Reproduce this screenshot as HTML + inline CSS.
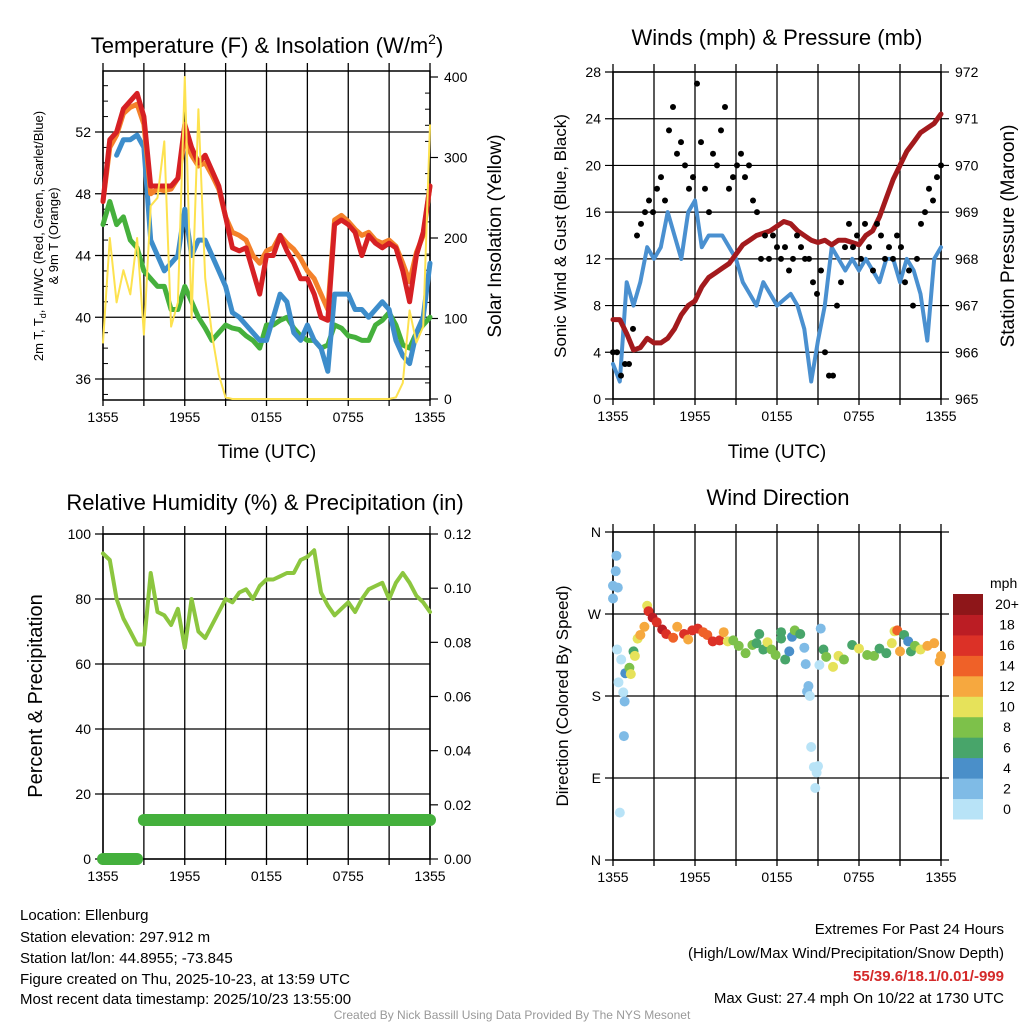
<!DOCTYPE html>
<html><head><meta charset="utf-8">
<style>
body{margin:0;background:#fff;}
svg{display:block;font-family:"Liberation Sans",Arial,sans-serif;}
</style></head>
<body>
<svg id="fig" width="1024" height="1024" viewBox="0 0 1024 1024">
<rect width="1024" height="1024" fill="#fff"/>
<g id="g1"></g>
<g id="g2"></g>
<g id="g3"></g>
<g id="g4"></g>

<text x="267" y="53" font-size="22" text-anchor="middle">Temperature (F) &amp; Insolation (W/m<tspan font-size="14" dy="-9">2</tspan><tspan dy="9">)</tspan></text>
<text x="777" y="45" font-size="22" text-anchor="middle">Winds (mph) &amp; Pressure (mb)</text>
<text x="265" y="510" font-size="22" text-anchor="middle">Relative Humidity (%) &amp; Precipitation (in)</text>
<text x="778" y="505" font-size="22" text-anchor="middle">Wind Direction</text>

<text x="267" y="458" font-size="19" text-anchor="middle">Time (UTC)</text>
<text x="777" y="458" font-size="19" text-anchor="middle">Time (UTC)</text>

<text transform="translate(43,236) rotate(-90)" font-size="13" text-anchor="middle">2m T, T<tspan font-size="9" dy="3">d</tspan><tspan dy="-3">, HI/WC (Red, Green, Scarlet/Blue)</tspan></text>
<text transform="translate(58,236) rotate(-90)" font-size="13" text-anchor="middle">&amp; 9m T (Orange)</text>
<text transform="translate(501,236) rotate(-90)" font-size="19" text-anchor="middle">Solar Insolation (Yellow)</text>
<text transform="translate(566,236) rotate(-90)" font-size="17" text-anchor="middle">Sonic Wind &amp; Gust (Blue, Black)</text>
<text transform="translate(1014,236) rotate(-90)" font-size="19" text-anchor="middle">Station Pressure (Maroon)</text>
<text transform="translate(42,696) rotate(-90)" font-size="20" text-anchor="middle">Percent &amp; Precipitation</text>
<text transform="translate(568,696) rotate(-90)" font-size="17" text-anchor="middle">Direction (Colored By Speed)</text>

<g font-size="15">
<text x="20" y="920">Location: Ellenburg</text>
<text x="20" y="942">Station elevation: 297.912 m</text>
<text x="20" y="963">Station lat/lon: 44.8955; -73.845</text>
<text x="20" y="984">Figure created on Thu, 2025-10-23, at 13:59 UTC</text>
<text x="20" y="1004">Most recent data timestamp: 2025/10/23 13:55:00</text>
</g>
<g font-size="15" text-anchor="end">
<text x="1004" y="934">Extremes For Past 24 Hours</text>
<text x="1004" y="958">(High/Low/Max Wind/Precipitation/Snow Depth)</text>
<text x="1004" y="981" fill="#d42a2a" font-weight="bold">55/39.6/18.1/0.01/-999</text>
<text x="1004" y="1003">Max Gust: 27.4 mph On 10/22 at 1730 UTC</text>
</g>
<text x="512" y="1019" font-size="12" fill="#999" text-anchor="middle">Created By Nick Bassill Using Data Provided By The NYS Mesonet</text>
</svg>
<script>
// Half-hourly series (0..24 h from 1355 UTC)
const timeLabels = ["1355","1955","0155","0755","1355"];
const tempRed = [47.5,51.5,52,53.5,54,54.5,53,48.5,48.5,48.5,48.5,49,52.5,51,50,50.5,49.5,48.5,46.5,44.5,44.3,44.5,43,41.5,44,44,45.3,44.3,43.5,42.5,42.5,41.5,40,39.8,46,46.3,46,45.5,44,45.3,44.8,44.5,44.8,44.5,43,41,44,45.5,48.5];
const tempOrange = [47.5,51,51.8,53.2,53.6,53.8,52.5,48,48.3,48.2,48.3,49,51.5,50.5,49.8,50,49.2,48.3,46.5,45.5,45.3,45,44,43.5,44.3,44.5,45.3,44.8,44.4,43.8,43,42.5,41.5,40.5,46.3,46.6,46.2,45.7,45.3,45.5,45,44.8,45,44.6,43.5,42.3,44.2,45.3,48.5];
const tempBlue = [null,null,50.5,51.5,51.5,51.8,51,45,44,43,43.5,44,47,44,45,45,44,43,42,40.3,40,39.5,39,38.5,38.5,40,41.5,41,39,38.5,39.5,38.5,38,36.5,41.5,41.5,41.5,40.5,40.5,40,40.5,41,40.5,38.5,37.5,37,39,40,43.5];
const tempGreen = [46,47.5,46,46.5,45,44.5,43,42.5,42,42,40.5,40.5,42,41,40,39.3,38.5,39,39.5,39.3,39.2,38.8,38.5,38,39.5,39.5,39.8,40,39.3,38.8,38.5,38.5,38,38.2,39.5,39.3,38.8,38.7,38.5,38.5,39.5,39.8,40.3,39.5,38.2,38,39,39.5,40];
const solar = [70,200,120,160,130,200,80,240,250,320,90,120,400,100,360,150,80,30,2,0,0,0,0,0,0,0,0,0,0,0,0,0,0,0,0,0,0,0,0,0,0,0,0,2,20,110,70,90,340];
const pressure = [966.7,966.7,966.4,966.05,966.1,966.3,966.2,966.2,966.3,966.5,966.8,967.0,967.1,967.4,967.6,967.7,967.8,967.9,968.1,968.3,968.4,968.5,968.55,968.6,968.7,968.8,968.75,968.6,968.5,968.4,968.35,968.4,968.3,968.4,968.4,968.35,968.3,968.5,968.6,968.9,969.3,969.7,970.0,970.3,970.5,970.7,970.8,970.9,971.1];
const windSpeed = [3,1.5,10,8,10,13,12,13,16,14,12,16,17,13,14,14,14,13,12,10,9,8,10,9,8,8.5,9,8,6,1.5,5,8,13,12,11,12,11,12,11,10,12,12,10,12,11,9,5,12,13];
const gusts = [4,4,2,3,3,6,14,15,16,17,16,18,19,17,23,25,21,22,20,18,19,27,22,18,16,21,20,23,25,18,19,20,21,19,20,17,16,12,14,12,14,13,12,13,11,12,14,13,12,12,10,9,11,4,2,2,8,10,13,15,13,14,12,15,13,11,15,14,12,13,12,14,13,10,11,8,12,15,16,18,17,19,20];
const rh = [94,92,80,74,70,66,66,88,76,75,72,77,65,80,70,68,72,76,80,79,82,83,80,84,86,86,87,88,88,92,93,95,82,78,75,77,79,76,80,83,84,85,80,85,88,85,81,79,76];
const precip = [0,0,0,0,0,0,0.0144,0.0144,0.0144,0.0144,0.0144,0.0144,0.0144,0.0144,0.0144,0.0144,0.0144,0.0144,0.0144,0.0144,0.0144,0.0144,0.0144,0.0144,0.0144,0.0144,0.0144,0.0144,0.0144,0.0144,0.0144,0.0144,0.0144,0.0144,0.0144,0.0144,0.0144,0.0144,0.0144,0.0144,0.0144,0.0144,0.0144,0.0144,0.0144,0.0144,0.0144,0.0144,0.0144];
const dirHours = [0.25,0.2,0,0.35,0,0.3,0.6,0.9,0.4,0.75,0.85,0.8,0.5,1.2,1.3,1.5,1.6,1.8,2.0,2.3,2.5,2.6,2.9,3.2,3.6,3.9,4.4,4.7,5.2,5.5,5.8,6.2,6.6,6.9,7.3,7.8,8.1,8.4,8.8,9.2,9.7,10.2,10.5,10.7,11,11.3,11.6,11.9,12.3,12.3,12.6,12.9,13.1,13.3,13.7,14.0,14.1,14.3,14.2,14.4,14.5,14.7,15,14.9,14.8,15.2,15.1,15.4,15.6,16.1,16.5,16.9,17.5,18.0,18.6,19.1,19.5,20,20.4,20.6,20.8,21.0,21.3,21.6,21.8,22.1,22.5,23.0,23.5,23.9,24];
const dirDegs = [334,317,301,299,287,231,220,205,195,184,174,136,52,211,204,229,224,243,247,256,279,273,266,261,253,248,244,256,248,242,252,254,250,247,240,241,250,240,241,235,227,236,238,248,231,239,231,225,243,250,220,229,245,252,248,233,215,191,185,180,124,102,103,96,79,254,214,231,223,212,224,220,236,232,225,224,232,227,238,251,252,229,247,240,229,235,231,235,238,218,224];
const dirSpeeds = [2,3,3,2,3,0,0,4,0,0,2,2,0,9,10,7,10,10,12,13,10,16,18,17,18,17,14,12,16,12,17,16,15,14,16,16,12,10,8,8,8,8,7,6,7,10,8,8,6,6,6,4,4,8,6,2,2,2,2,0,0,0,0,0,0,2,0,6,8,10,10,8,6,10,8,8,6,6,10,10,15,13,6,4,6,8,10,12,12,12,12];
const speedColors = ["#b8e3f7","#7fbbe6","#4a8fc9","#48a56a","#7dc14a","#e6e25a","#f6a83f","#ef6128","#dc3127","#bb1d24","#8e1619"];
const speedLabels = ["0","2","4","6","8","10","12","14","16","18","20+"];

const NS="http://www.w3.org/2000/svg";
function mk(parent,tag,attrs){const e=document.createElementNS(NS,tag);for(const k in attrs)e.setAttribute(k,attrs[k]);parent.appendChild(e);return e;}
function lin(d0,d1,r0,r1){return v=>r0+(v-d0)/(d1-d0)*(r1-r0);}

function frame(g,x0,x1,y0,y1,yTicks,yFn,yLab,rTicks,rFn,rLab){
  const xs=lin(0,24,x0,x1);
  for(let h=0;h<=24;h+=3){
    const l=mk(g,'line',{x1:xs(h),x2:xs(h),y1:y0-8,y2:y1+6,stroke:'#000','stroke-width':1.3});
    
    
  }
  timeLabels.forEach((t,i)=>{
    const e=mk(g,'text',{x:xs(i*6),y:y1+22,'font-size':14,'text-anchor':'middle'});e.textContent=t;
    
    
  });
  yTicks.forEach((v,i)=>{
    const y=yFn(v);
    const l=mk(g,'line',{x1:x0-8,x2:x1+(rTicks?0:8),y1:y,y2:y,stroke:'#000','stroke-width':1.2});
    
    
    const e=mk(g,'text',{x:x0-12,y:y+5,'font-size':14,'text-anchor':'end'});e.textContent=yLab[i];
    
    
  });
  if(rTicks) rTicks.forEach((v,i)=>{
    const y=rFn(v);
    const l=mk(g,'line',{x1:x1,x2:x1+8,y1:y,y2:y,stroke:'#000','stroke-width':1.2});
    
    
    const e=mk(g,'text',{x:x1+14,y:y+5,'font-size':14});e.textContent=rLab[i];
    
    
  });
  const r=mk(g,'rect',{x:x0,y:y0,width:x1-x0,height:y1-y0,fill:'none',stroke:'#000','stroke-width':1.5});
  
  
  return xs;
}
function path(g,vals,xs,ys,n,color,w,name){
  let d='',pen=false;
  vals.forEach((v,i)=>{ if(v==null){pen=false;return;} d+=(pen?'L':'M')+xs(i*24/(n-1)).toFixed(1)+','+ys(v).toFixed(1);pen=true;});
  const p=mk(g,'path',{d:d,fill:'none',stroke:color,'stroke-width':w,'stroke-linejoin':'round','stroke-linecap':'round'});
  
  
}

// Panel 1
{const g=document.getElementById('g1');
 const ys=lin(36,52,379,132), rs=lin(0,400,399,77);
 const xs=frame(g,103,430,71,400,[36,40,44,48,52],ys,["36","40","44","48","52"],[0,100,200,300,400],rs,["0","100","200","300","400"]);
 for(let v=20;v<400;v+=20){ if(v%100){const l=mk(g,'line',{x1:425,x2:430,y1:rs(v),y2:rs(v),stroke:'#000'});}}
 for(let v=35;v<=55;v++){ if(v%4){const l=mk(g,'line',{x1:103,x2:108,y1:ys(v),y2:ys(v),stroke:'#000'});}}
 path(g,tempGreen,xs,ys,tempGreen.length,'#45b03c',5,'dewpoint-line');
 path(g,tempBlue,xs,ys,tempBlue.length,'#3d8dcb',5,'wind-chill-line');
 path(g,tempOrange,xs,ys,tempOrange.length,'#f4812a',5,'temp-9m-line');
 path(g,tempRed,xs,ys,tempRed.length,'#d62024',5,'temp-2m-line');
 path(g,solar,xs,rs,solar.length,'#fde24f',2,'solar-line');
}
// Panel 2
{const g=document.getElementById('g2');
 const ys=lin(0,28,399,72), rs=lin(965,972,399,72);
 const t=[0,4,8,12,16,20,24,28];
 const xs=frame(g,613,941,72,399,t,ys,t.map(String),[965,966,967,968,969,970,971,972],rs,["965","966","967","968","969","970","971","972"]);
 path(g,windSpeed,xs,ys,windSpeed.length,'#4a90d0',4,'wind-speed-line');
 path(g,pressure,xs,rs,pressure.length,'#a31a1d',5,'pressure-line');
 gusts.forEach((v,i)=>{const c=mk(g,'circle',{cx:xs(i*24/(gusts.length-1)),cy:ys(v),r:3,fill:'#000'});
   
   });
}
// Panel 3
{const g=document.getElementById('g3');
 const ys=lin(0,100,859,534), rs=lin(0,0.12,859,534);
 const t=[0,20,40,60,80,100];
 const xs=frame(g,103,430,534,859,t,ys,t.map(String),[0,0.02,0.04,0.06,0.08,0.1,0.12],rs,["0.00","0.02","0.04","0.06","0.08","0.10","0.12"]);
 path(g,rh,xs,ys,rh.length,'#8cc63f',4,'rh-line');
 for(let i=1;i<precip.length;i++){ if(precip[i]===precip[i-1]){
   const l=mk(g,'line',{x1:xs((i-1)*24/(precip.length-1)),x2:xs(i*24/(precip.length-1)),y1:rs(precip[i]),y2:rs(precip[i]),stroke:'#44b03c','stroke-width':12,'stroke-linecap':'round'});
   
   }}
}
// Panel 4
{const g=document.getElementById('g4');
 const ys=lin(0,360,860,532);
 const xs=frame(g,613,941,532,860,[0,90,180,270,360],ys,["N","E","S","W","N"],null);
 dirHours.forEach((h,i)=>{
   const bin=Math.min(10,Math.floor(dirSpeeds[i]/2));
   const c=mk(g,'circle',{cx:xs(h),cy:ys(dirDegs[i]),r:5,fill:speedColors[bin]});
   
   
 });
 const t=mk(g,'text',{x:990,y:588,'font-size':14});t.textContent='mph';
 
 
 const segH=(819-594)/speedColors.length;
 speedColors.forEach((c,i)=>{
   const y=819-(i+1)*segH;
   const r=mk(g,'rect',{x:953,y:y,width:30,height:segH+0.5,fill:c});
   
   
   const e=mk(g,'text',{x:1007,y:y+segH/2+5,'font-size':14,'text-anchor':'middle'});e.textContent=speedLabels[i];
   
   
 });
}
</script>
</body></html>
